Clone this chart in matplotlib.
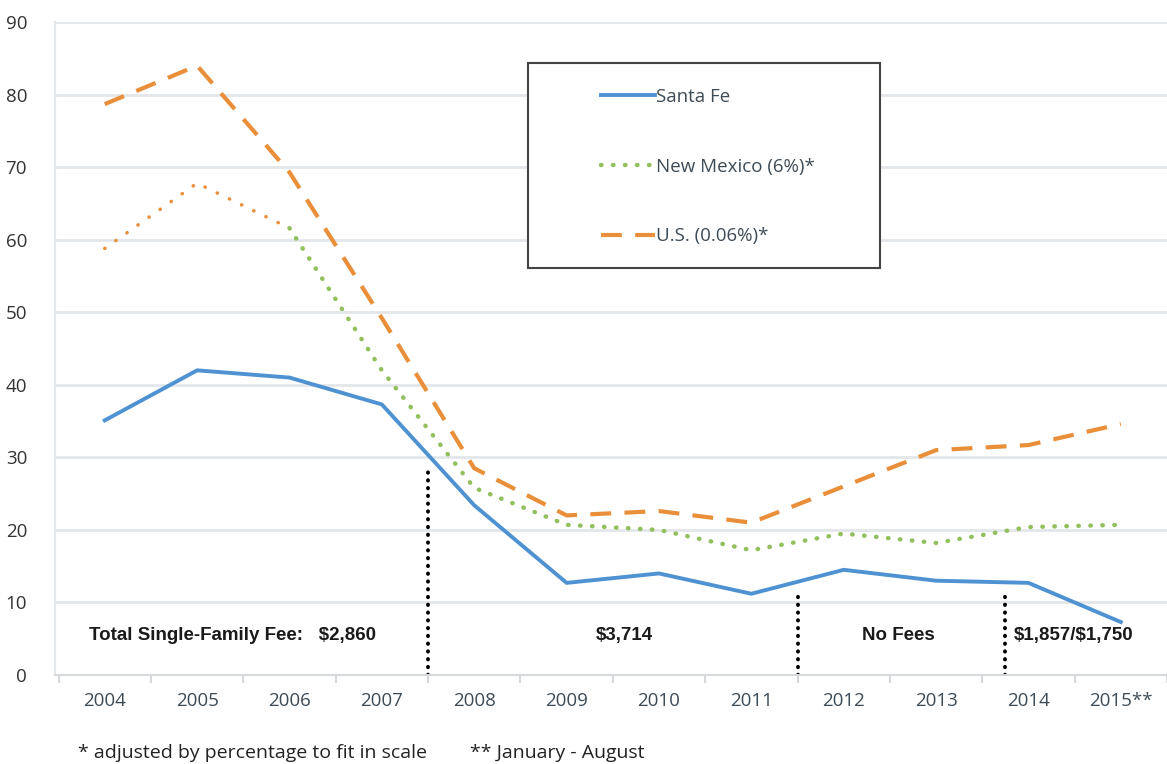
import numpy as np
import matplotlib
matplotlib.use("Agg")
import matplotlib.pyplot as plt
from matplotlib import font_manager
from matplotlib.patches import Rectangle

years = [2004, 2005, 2006, 2007, 2008, 2009, 2010, 2011, 2012, 2013, 2014, 2015]
year_labels = ['2004', '2005', '2006', '2007', '2008', '2009', '2010', '2011',
               '2012', '2013', '2014', '2015**']
santa_fe = [35.1, 42.0, 41.0, 37.3, 23.4, 12.7, 14.0, 11.2, 14.5, 13.0, 12.7, 7.3]
new_mexico = [58.8, 67.8, 61.6, 42.0, 25.8, 20.7, 20.0, 17.2, 19.5, 18.2, 20.4, 20.7]
us = [78.7, 84.0, 69.3, 49.2, 28.5, 22.0, 22.6, 21.0, 26.0, 31.0, 31.7, 34.6]

# fee periods
divider_x = [2007.5, 2011.5, 2013.75]
divider_top = [28.3, 11.7, 11.3]
fee_labels = [r'Total Single-Family Fee:   \$2,860', r'\$3,714', 'No Fees', r'\$1,857/\$1,750']
fee_x = [2005.38, 2009.63, 2012.59, 2014.49]
fee_y = 5.5

names = {f.name for f in font_manager.fontManager.ttflist}
narrow = 'Liberation Sans Narrow' if 'Liberation Sans Narrow' in names else 'Liberation Sans'

blue = '#4e92d2'
orange = '#e98f3a'
green = '#93bf5c'
grid_c = '#e3e7ea'
label_c = '#3d4b57'

fig = plt.figure(figsize=(11.67, 7.64), dpi=100)
ax = fig.add_axes([0.047, 0.1165, 0.953, 0.8545])

ax.set_xlim(2003.46, 2015.45)
ax.set_ylim(0, 90)
ax.set_yticks(range(0, 91, 10))
ax.set_xticks(years)
ax.set_xticklabels(year_labels)
ax.set_xticks(np.arange(2003.5, 2015.6, 1), minor=True)
ax.tick_params(axis='x', which='major', length=0, pad=12, labelsize=13.5, labelcolor=label_c)
ax.tick_params(axis='x', which='minor', length=6, color='#d5d9dc', width=1.5)
ax.tick_params(axis='y', length=0, pad=20, labelsize=13.5, labelcolor='#333333')
for lab in ax.get_xticklabels() + ax.get_yticklabels():
    lab.set_family('Open Sans')
ax.grid(axis='y', color=grid_c, lw=2)
ax.set_axisbelow(True)
for s in ['top', 'right']:
    ax.spines[s].set_visible(False)
ax.spines['left'].set_color(grid_c)
ax.spines['left'].set_linewidth(1.5)
ax.spines['bottom'].set_color('#d5d9dc')
ax.spines['bottom'].set_linewidth(1.5)

ax.plot(years, us, color=orange, lw=3, ls=(0, (5, 3.2)), label='U.S. (0.06%)*')
# New Mexico line shows orange dots in the early years
ax.plot(years[:3], new_mexico[:3], color=orange, lw=2.5, ls=(0, (0.1, 3.8)),
        dash_capstyle='round')
ax.plot(years[2:], new_mexico[2:], color=green, lw=3.2, ls=(0, (0.1, 2.6)),
        dash_capstyle='round', label='New Mexico (6%)*')
ax.plot(years, santa_fe, color=blue, lw=2.8, label='Santa Fe')

for x, top in zip(divider_x, divider_top):
    ax.plot([x, x], [0, top], color='black', lw=2.8, ls=(0, (0.1, 1.9)),
            dash_capstyle='round')

for txt, x in zip(fee_labels, fee_x):
    ax.text(x, fee_y, txt, ha='center', va='center', fontsize=13.5,
            fontweight='bold', family=narrow, color='#1a1a1a')

# legend
ax.add_patch(Rectangle((0.4254, 0.623), 0.3165, 0.314, transform=ax.transAxes,
                       fill=True, facecolor='white', edgecolor='#444444', lw=1.5,
                       zorder=5))
h, l = ax.get_legend_handles_labels()
order = [2, 1, 0]
leg = ax.legend([h[i] for i in order], [l[i] for i in order],
                loc='upper left', bbox_to_anchor=(0.476, 0.925), frameon=False,
                handlelength=2.9, handletextpad=0.05, labelspacing=2.75,
                prop={'family': 'Open Sans', 'size': 13.5})
for t in leg.get_texts():
    t.set_color(label_c)
leg.set_zorder(6)

fig.text(0.067, 0.008, '* adjusted by percentage to fit in scale', fontsize=14,
         family='Open Sans', color='#222222')
fig.text(0.403, 0.008, '** January - August', fontsize=14,
         family='Open Sans', color='#222222')

fig.savefig('out.png', dpi=100)
